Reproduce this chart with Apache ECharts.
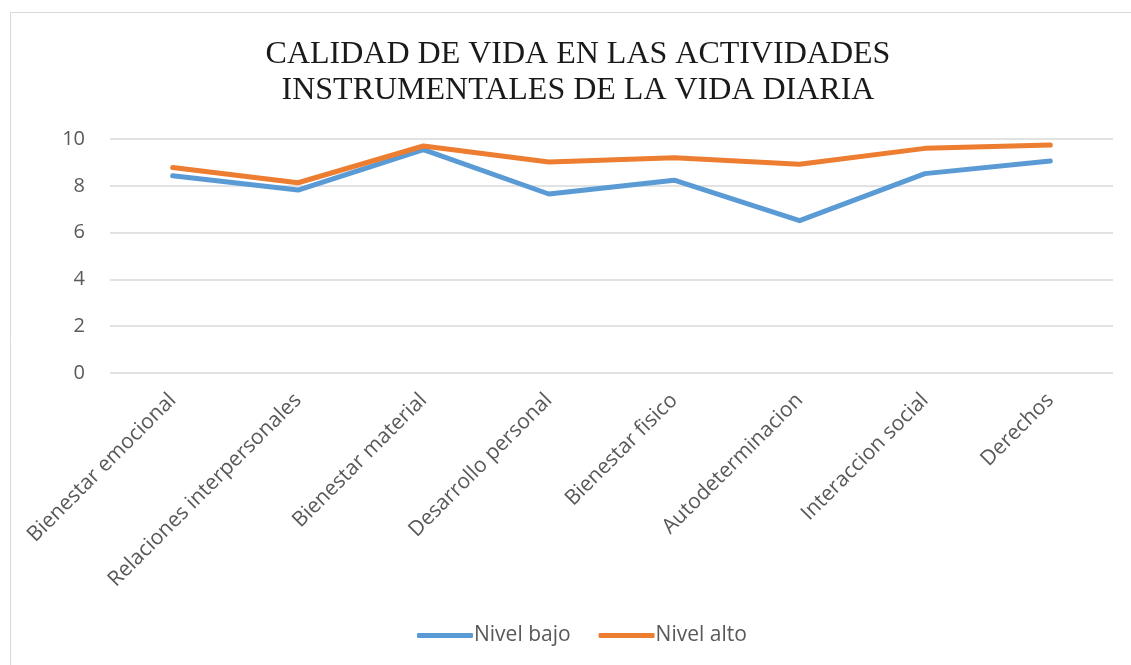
<!DOCTYPE html>
<html>
<head>
<meta charset="utf-8">
<script src="https://cdn.jsdelivr.net/npm/echarts@6/dist/echarts.min.js"></script>
<style>
  html, body { margin: 0; padding: 0; background: #fff; }
  #chart { width: 1131px; height: 665px; }
</style>
</head>
<body>
<div id="chart"></div>
<script>
const categories = [
  'Bienestar emocional',
  'Relaciones interpersonales',
  'Bienestar material',
  'Desarrollo personal',
  'Bienestar fisico',
  'Autodeterminacion',
  'Interaccion social',
  'Derechos'
]
const nivelBajo = [8.43, 7.82, 9.55, 7.65, 8.24, 6.51, 8.52, 9.06]
const nivelAlto = [8.78, 8.13, 9.70, 9.02, 9.20, 8.92, 9.60, 9.74]
const yTicks = [0, 2, 4, 6, 8, 10]

const chart = echarts.init(document.getElementById('chart'))
chart.setOption({
  animation: false,
  graphic: [{
    type: 'rect',
    left: 8, top: 10,
    shape: { width: 1130, height: 660 },
    style: { fill: 'none', stroke: '#d9d9d9', lineWidth: 1 },
    silent: true
  }],
  title: {
    text: 'CALIDAD DE VIDA EN LAS ACTIVIDADES\nINSTRUMENTALES DE LA VIDA DIARIA',
    left: 573, top: 32, textAlign: 'center',
    textStyle: {
      fontFamily: 'Liberation Serif',
      fontWeight: 'normal',
      fontSize: 32,
      lineHeight: 36,
      color: '#1a1a1a'
    }
  },
  legend: {
    bottom: 14,
    left: 412,
    itemWidth: 56,
    itemHeight: 5,
    itemGap: 28,
    icon: 'roundRect',
    textStyle: { fontFamily: 'Open Sans', fontSize: 21, color: '#595959', padding: [0, 0, 0, -4] },
    data: ['Nivel bajo', 'Nivel alto']
  },
  grid: { left: 110, right: 18, top: 139, bottom: 292 },
  xAxis: {
    type: 'category',
    data: categories,
    boundaryGap: true,
    axisLine: { show: false },
    axisTick: { show: false },
    axisLabel: {
      rotate: 45,
      interval: 0,
      margin: 24,
      fontFamily: 'Open Sans',
      fontSize: 21,
      color: '#595959'
    }
  },
  yAxis: {
    type: 'value',
    min: yTicks[0],
    max: yTicks[yTicks.length - 1],
    interval: 2,
    axisLine: { show: false },
    axisTick: { show: false },
    splitLine: { lineStyle: { color: '#d9d9d9', width: 1.5 } },
    axisLabel: {
      margin: 25,
      fontFamily: 'Open Sans',
      fontSize: 20,
      color: '#595959'
    }
  },
  series: [
    {
      name: 'Nivel bajo',
      type: 'line',
      data: nivelBajo,
      symbol: 'none',
      color: '#5b9bd5',
      lineStyle: { width: 5, cap: 'round', join: 'round' }
    },
    {
      name: 'Nivel alto',
      type: 'line',
      data: nivelAlto,
      symbol: 'none',
      color: '#ed7d31',
      lineStyle: { width: 5, cap: 'round', join: 'round' }
    }
  ]
})
</script>
</body>
</html>
